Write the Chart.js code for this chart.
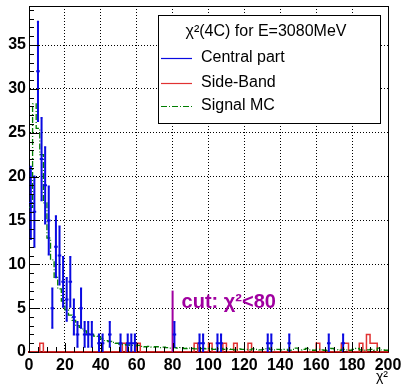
<!DOCTYPE html>
<html>
<head>
<meta charset="utf-8">
<script src="https://cdn.jsdelivr.net/npm/chart.js@4.4.1/dist/chart.umd.min.js"></script>
<style>
  html, body { margin: 0; padding: 0; background: #fff; }
</style>
</head>
<body>
<canvas id="chart" width="403" height="386"></canvas>
<script>
Chart.defaults.font.family = '"Liberation Sans", Arial, Helvetica, sans-serif';
Chart.defaults.color = '#000';

const binWidth = 2;
const nBins = 100;

// central part: lower bin edge and number of events
const centralBins = [0, 2, 4, 6, 8, 10, 12, 14, 16, 18, 20, 22, 24, 26, 28, 30, 32, 34, 38, 40, 44,
  50, 54, 56, 58, 80, 94, 96, 104, 106, 132, 134, 144, 166, 174];
const centralCounts = [17, 16, 32, 22, 19, 15, 5, 12, 11, 8, 6, 8, 4, 2, 5, 2, 2, 2, 1, 1, 2,
  1, 1, 1, 1, 2, 1, 1, 1, 1, 1, 1, 1, 1, 1];

// side-band: lower bin edge and number of events (all other bins empty)
const sideBandBins = [6, 52, 60, 92, 100, 108, 114, 122, 160, 174, 176, 184, 188, 190, 192];
const sideBandCounts = [1, 1, 1, 1, 1, 1, 1, 1, 1, 1, 1, 1, 2, 1, 1];

// signal MC (normalised), one value per 2-wide bin from 0 to 200
const signalMC = [
  16.5, 28.3, 25.5, 22.5, 17, 13, 10.5, 8.5, 7.2, 5.8,
  4.8, 4.2, 3.6, 3.0, 2.8, 2.4, 2.1, 2.0, 1.8, 1.7,
  1.5, 1.3, 1.2, 1.1, 1.0, 0.9, 0.85, 0.8, 0.75, 0.7,
  0.75, 0.65, 0.6, 0.65, 0.55, 0.6, 0.5, 0.55, 0.5, 0.45,
  0.5, 0.45, 0.5, 0.4, 0.45, 0.4, 0.35, 0.45, 0.4, 0.35,
  0.4, 0.3, 0.35, 0.4, 0.3, 0.35, 0.3, 0.25, 0.35, 0.3,
  0.3, 0.25, 0.35, 0.3, 0.25, 0.3, 0.45, 0.3, 0.25, 0.3,
  0.25, 0.3, 0.2, 0.3, 0.45, 0.25, 0.3, 0.4, 0.25, 0.2,
  0.3, 0.25, 0.2, 0.3, 0.4, 0.25, 0.2, 0.3, 0.25, 0.2,
  0.3, 0.4, 0.25, 0.2, 0.25, 0.3, 0.2, 0.45, 0.25, 0.2
];

const cutValue = 80;
const cutLineTop = 7;
const cutLabelY = 5;
const yMax = 39.45;

const legendTitle = 'χ²(4C) for E=3080MeV';
const legendEntries = ['Central part', 'Side-Band', 'Signal MC'];

const blue = 'rgb(10,10,225)';
const red = 'rgb(225,50,50)';
const green = 'rgb(0,125,0)';
const magenta = 'rgb(160,0,160)';

// histogram outline: one point per lower edge plus the closing edge
function stepPoints(values) {
  const pts = values.map((v, i) => ({ x: i * binWidth, y: v }));
  pts.push({ x: values.length * binWidth, y: values[values.length - 1] });
  return pts;
}

const sideBandFull = new Array(nBins).fill(0);
sideBandBins.forEach((b, i) => { sideBandFull[b / binWidth] = sideBandCounts[i]; });

// error bars as broken line segments (sqrt(N) errors, bin width horizontally)
function errorBarPoints() {
  const pts = [];
  const cap = 0.6;
  centralBins.forEach((lo, i) => {
    const n = centralCounts[i];
    const e = Math.sqrt(n);
    const c = lo + binWidth / 2;
    pts.push({ x: c, y: n - e }, { x: c, y: n + e }, { x: c, y: null });
    pts.push({ x: lo, y: n }, { x: lo + binWidth, y: n }, { x: c, y: null });
    pts.push({ x: c - cap, y: n - e }, { x: c + cap, y: n - e }, { x: c, y: null });
    pts.push({ x: c - cap, y: n + e }, { x: c + cap, y: n + e }, { x: c, y: null });
  });
  return pts;
}

const rootStyle = {
  id: 'rootStyle',
  afterDraw(chart) {
    const { ctx, chartArea: a, scales: { x, y } } = chart;
    ctx.save();
    ctx.strokeStyle = '#000';
    ctx.lineWidth = 1;

    // frame
    ctx.beginPath();
    ctx.moveTo(a.left, a.top + 0.5);
    ctx.lineTo(a.right + 0.5, a.top + 0.5);
    ctx.lineTo(a.right + 0.5, a.bottom);
    ctx.stroke();

    // ticks pointing into the frame
    ctx.beginPath();
    for (let v = 0; v <= yMax; v += 1) {
      const py = Math.round(y.getPixelForValue(v)) + 0.5;
      const len = v % 5 === 0 ? 10 : 5;
      ctx.moveTo(a.left, py);
      ctx.lineTo(a.left + len, py);
    }
    for (let v = 0; v <= 200; v += 5) {
      const px = Math.round(x.getPixelForValue(v)) + 0.5;
      const len = v % 20 === 0 ? 9 : 5;
      ctx.moveTo(px, a.bottom);
      ctx.lineTo(px, a.bottom - len);
    }
    ctx.stroke();

    // cut label
    ctx.fillStyle = magenta;
    ctx.font = 'bold 20px "Liberation Sans", Arial, sans-serif';
    ctx.textBaseline = 'alphabetic';
    ctx.textAlign = 'left';
    ctx.fillText('cut: χ²<80', x.getPixelForValue(cutValue) + 9, y.getPixelForValue(cutLabelY));

    // legend
    const box = { left: 158, top: 15, right: 380, bottom: 123 };
    ctx.fillStyle = '#fff';
    ctx.fillRect(box.left, box.top, box.right - box.left, box.bottom - box.top);
    ctx.strokeStyle = '#000';
    ctx.strokeRect(box.left + 0.5, box.top + 0.5, box.right - box.left, box.bottom - box.top);
    ctx.fillStyle = '#000';
    ctx.font = '16px "Liberation Sans", Arial, sans-serif';
    ctx.textBaseline = 'middle';
    ctx.textAlign = 'center';
    ctx.fillText(legendTitle, (box.left + box.right) / 2 - 3, 32);
    const colors = [blue, red, green];
    const dashes = [[], [], [6, 2, 1, 2]];
    const rowsY = [58, 83, 106];
    ctx.textAlign = 'left';
    legendEntries.forEach((label, i) => {
      ctx.strokeStyle = colors[i];
      ctx.lineWidth = 1.2;
      ctx.setLineDash(dashes[i]);
      ctx.beginPath();
      ctx.moveTo(box.left + 3, rowsY[i] + 0.5);
      ctx.lineTo(box.left + 34, rowsY[i] + 0.5);
      ctx.stroke();
      ctx.setLineDash([]);
      ctx.fillText(label, box.left + 43, rowsY[i]);
    });
    ctx.restore();
  }
};

new Chart(document.getElementById('chart'), {
  type: 'line',
  data: {
    datasets: [
      {
        label: 'Central part',
        data: errorBarPoints(),
        borderColor: blue,
        borderWidth: 2,
        pointRadius: 0,
        spanGaps: false,
        fill: false
      },
      {
        label: 'cut',
        data: [{ x: cutValue, y: 0 }, { x: cutValue, y: cutLineTop }],
        borderColor: magenta,
        borderWidth: 2,
        pointRadius: 0,
        fill: false
      },
      {
        label: 'Signal MC',
        data: stepPoints(signalMC),
        stepped: true,
        borderColor: green,
        borderWidth: 1.3,
        borderDash: [6, 2, 1, 2],
        pointRadius: 0,
        fill: false
      },
      {
        label: 'Side-Band',
        data: stepPoints(sideBandFull),
        stepped: true,
        borderColor: red,
        borderWidth: 1.5,
        pointRadius: 0,
        fill: false
      }
    ]
  },
  options: {
    responsive: false,
    animation: false,
    devicePixelRatio: 1,
    layout: { padding: { top: 6, right: 15, left: 0, bottom: 0 } },
    plugins: {
      legend: { display: false },
      tooltip: { enabled: false }
    },
    scales: {
      x: {
        type: 'linear',
        min: 0,
        max: 200,
        ticks: {
          stepSize: 20,
          autoSkip: false,
          maxRotation: 0,
          padding: 4,
          font: { size: 16, weight: 'bold' },
          color: '#000'
        },
        grid: { color: '#000', lineWidth: 1, drawTicks: false },
        border: { color: 'rgb(140,0,0)', width: 2, dash: [1, 2] },
        title: { display: true, text: 'χ²', align: 'end', font: { size: 14 }, padding: 0, color: '#000' },
        afterFit: s => {
          s.height = 34;
          s.paddingLeft = 0;
          s.paddingRight = 0;
        }
      },
      y: {
        min: 0,
        max: yMax,
        ticks: {
          stepSize: 5,
          includeBounds: false,
          padding: 3,
          font: { size: 16, weight: 'bold' },
          color: '#000'
        },
        grid: { color: '#000', lineWidth: 1, drawTicks: false },
        border: { color: '#000', width: 1, dash: [1, 2] },
        afterFit: s => {
          s.width = 29;
          s.paddingTop = 0;
          s.paddingBottom = 0;
        }
      }
    }
  },
  plugins: [rootStyle]
});
</script>
</body>
</html>
